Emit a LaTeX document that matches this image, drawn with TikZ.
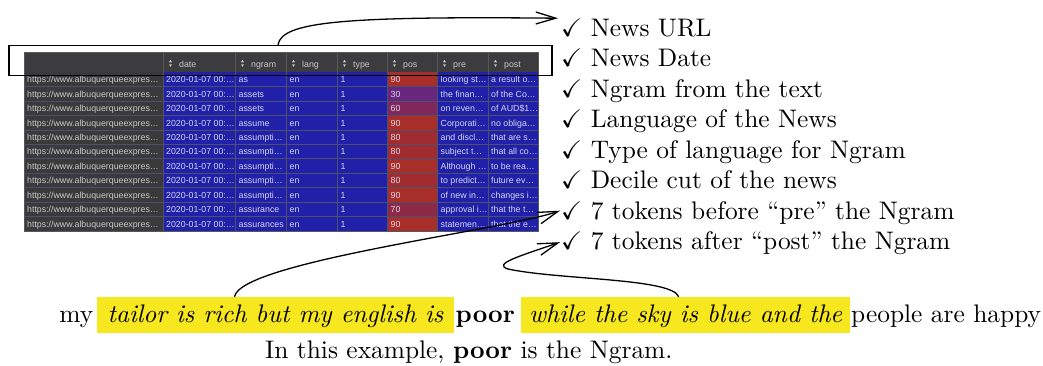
\documentclass[tikz,border=0pt]{standalone}
\usepackage{amssymb}
\usepackage{fontspec}
\setmainfont{lmroman10-regular.otf}[BoldFont=lmroman10-bold.otf,ItalicFont=lmroman10-italic.otf,BoldItalicFont=lmroman10-bolditalic.otf]
\newfontfamily\tabfont{Liberation Sans}
\usetikzlibrary{arrows.meta,calc}
\definecolor{hdr}{RGB}{60,60,62}
\definecolor{urlc}{RGB}{58,58,60}
\definecolor{cellblue}{RGB}{32,32,168}
\definecolor{gridc}{RGB}{78,78,110}
\definecolor{hgrid}{RGB}{88,88,90}
\definecolor{txtl}{RGB}{200,200,200}
\definecolor{txtb}{RGB}{215,215,235}
\definecolor{hlyellow}{RGB}{247,231,30}
\definecolor{p90}{RGB}{168,46,42}
\definecolor{p80}{RGB}{160,44,48}
\definecolor{p70}{RGB}{140,42,72}
\definecolor{p60}{RGB}{128,40,92}
\definecolor{p30}{RGB}{104,38,124}
\newcommand\mainsize{\fontsize{25.4}{30.5}\selectfont}
\newcommand\tabsize{\tabfont\fontsize{8.8}{10}\selectfont}
\newcommand\mkrow[5]{%
  \pgfmathsetmacro\ytop{72.3+14.43*#1}%
  \pgfmathsetmacro\ybot{72.3+14.43*(#1+1)}%
  \pgfmathsetmacro\ybase{72.3+14.43*#1+10.5}%
  \fill[p#3] (387,\ytop) rectangle (437,\ybot);
  \node[ucell] (u#1) at (27,\ybase) {https://www.albuquerqueexpres…};
  \node[cellt] (d#1) at (166,\ybase) {2020-01-07 00:…};
  \node[cellt] (n#1) at (238.5,\ybase) {#2};
  \node[cellt] (l#1) at (289.5,\ybase) {en};
  \node[cellt] (t#1) at (340.5,\ybase) {1};
  \node[cellt] (p#1) at (390.5,\ybase) {#3};
  \node[cellt] (r#1) at (440.5,\ybase) {#4};
  \node[cellt] (o#1) at (491,\ybase) {#5};
}
\begin{document}
\begin{tikzpicture}[x=1pt,y=-1pt,
  cellt/.style={anchor=base west,inner sep=0pt,font=\tabsize,text=txtb},
  ucell/.style={cellt,text=txtl},
  htext/.style={anchor=base west,inner sep=0pt,font=\tabsize,text=txtl},
  item/.style={anchor=base west,inner sep=0pt,font=\mainsize},
  plain/.style={inner sep=0pt,font=\mainsize},
  hl/.style={fill=hlyellow,inner xsep=0pt,inner ysep=0pt,text height=25pt,text depth=11pt,anchor=base,font=\mainsize\itshape},
  conn/.style={line width=1.3pt,-{Straight Barb[length=20pt,width=12pt]}}]
\useasboundingbox (0,0) rectangle (1043,365);

% ---- screenshot of the table ----
\fill[hdr] (24,52.5) rectangle (538,72.3);
\fill[urlc] (24,72.3) rectangle (163,231.6);
\fill[cellblue] (163,72.3) rectangle (538,231.6);
\mkrow{0}{as}{90}{looking st…}{a result o…}
\mkrow{1}{assets}{30}{the finan…}{of the Co…}
\mkrow{2}{assets}{60}{on reven…}{of AUD\$1…}
\mkrow{3}{assume}{90}{Corporati…}{no obliga…}
\mkrow{4}{assumpti…}{80}{and discl…}{that are s…}
\mkrow{5}{assumpti…}{80}{subject t…}{that all co…}
\mkrow{6}{assumpti…}{90}{Although …}{to be rea…}
\mkrow{7}{assumpti…}{80}{to predict…}{future ev…}
\mkrow{8}{assumpti…}{90}{of new in…}{changes i…}
\mkrow{9}{assurance}{70}{approval i…}{that the t…}
\mkrow{10}{assurances}{90}{statemen…}{that the e…}
\foreach \r in {1,...,10}
  \draw[gridc,line width=0.8pt] (24,{72.3+14.43*\r}) -- (538,{72.3+14.43*\r});
\foreach \x in {163,235,286,337,387,437,488}{
  \draw[hgrid,line width=0.8pt] (\x,52.5) -- (\x,72.3);
  \draw[gridc,line width=0.8pt] (\x,72.3) -- (\x,231.6);
}
\draw[hgrid,line width=0.8pt] (24,52.5) rectangle (538,231.6);
\foreach \x/\t [count=\k] in {163/date,235/ngram,286/lang,337/type,387/pos,437/pre,488/post}{
  \fill[txtl] (\x+6,62.3) -- (\x+9,62.3) -- (\x+7.5,59.8) -- cycle;
  \fill[txtl] (\x+6,64.3) -- (\x+9,64.3) -- (\x+7.5,66.8) -- cycle;
  \node[htext] (h\k) at (\x+16,67.5) {\t};
}
% highlight frame round the header
\node[draw,line width=1.6pt,minimum width=543pt,minimum height=30pt,inner sep=0pt] (box) at (280.5,60.5) {};

% ---- checklist ----
\node[item] (i1) at (561,36)    {$\checkmark$ News URL};
\node[item] (i2) at (561,66.5)  {$\checkmark$ News Date};
\node[item] (i3) at (561,97)    {$\checkmark$ Ngram from the text};
\node[item] (i4) at (561,127.5) {$\checkmark$ Language of the News};
\node[item] (i5) at (561,158)   {$\checkmark$ Type of language for Ngram};
\node[item] (i6) at (561,188.5) {$\checkmark$ Decile cut of the news};
\node[item] (i7) at (561,219)   {$\checkmark$ 7 tokens before ``pre'' the Ngram};
\node[item] (i8) at (561,249.5) {$\checkmark$ 7 tokens after ``post'' the Ngram};

% ---- example sentence ----
\node[plain,anchor=base east] (my) at (93.5,322) {my};
\node[hl,minimum width=357pt] (hl1) at (275.5,322) {tailor is rich but my english is};
\node[plain,anchor=base west] (poor) at (455.5,322) {\bfseries poor};
\node[hl,minimum width=328.5pt] (hl2) at (685.7,322) {while the sky is blue and the};
\node[plain,anchor=base west] (happy) at (851,322) {people are happy};
\node[plain,anchor=base west] (note) at (265,358) {In this example, \textbf{poor} is the Ngram.};

% ---- connectors ----
\draw[conn] ([xshift=-2.5pt]box.north) .. controls (282,22) and (340,16) .. ([xshift=-3pt]i1.north west);
\draw[conn] ([xshift=-41pt]hl1.north) .. controls (240,262) and (505,230) .. ([xshift=-1pt,yshift=2pt]i7.west);
\coordinate (curl) at (508,269);
\draw[conn] ([xshift=-7pt]hl2.north) .. controls (672,278) and (560,280) .. (curl)
  .. controls (492,264) and (520,256) .. ([xshift=-1pt,yshift=1pt]i8.west);
\end{tikzpicture}
\end{document}
